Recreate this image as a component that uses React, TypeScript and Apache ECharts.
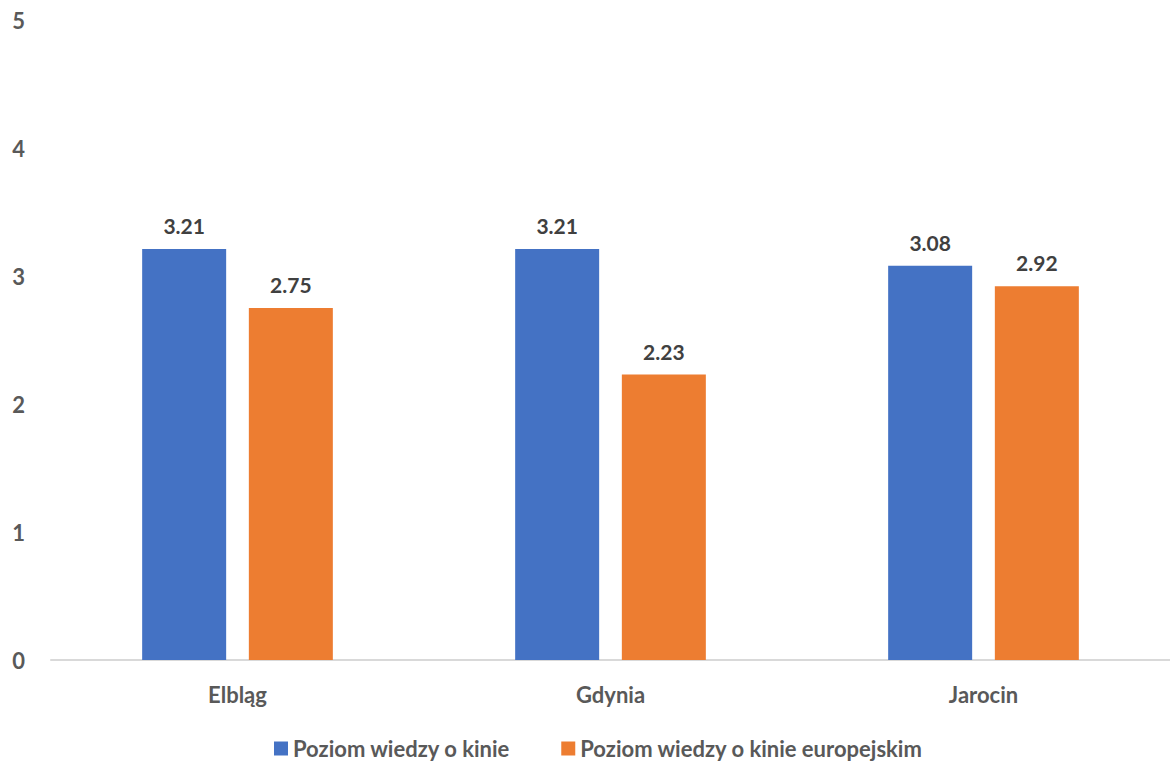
import React, { useEffect, useRef } from "react";
import * as echarts from "echarts";

const categories = ["Elbląg", "Gdynia", "Jarocin"];
const seriesNames = ["Poziom wiedzy o kinie", "Poziom wiedzy o kinie europejskim"];
const generalKnowledge = [3.21, 3.21, 3.08];
const europeanKnowledge = [2.75, 2.23, 2.92];
const colors = ["#4472C4", "#ED7D31"];

export default function App() {
  const ref = useRef<HTMLDivElement>(null);
  useEffect(() => {
    if (!ref.current) return;
    const chart = echarts.init(ref.current, null, { renderer: "svg" });
    const font = "Lato, 'Open Sans', sans-serif";
    const labelStyle = {
      show: true,
      position: "top" as const,
      distance: 13,
      color: "#404040",
      fontFamily: font,
      fontWeight: "bold" as const,
      fontSize: 21,
      formatter: (p: any) => p.value.toFixed(2),
    };
    chart.setOption({
      animation: false,
      backgroundColor: "#ffffff",
      color: colors,
      grid: { left: 51, right: -4, top: 20, bottom: 102, containLabel: false },
      legend: {
        left: 274,
        top: 735,
        padding: 0,
        itemWidth: 14,
        itemHeight: 14,
        itemGap: 51,
        icon: "rect",
        textStyle: { color: "#595959", fontFamily: font, fontWeight: "bold", fontSize: 22, lineHeight: 27 },
        data: seriesNames,
      },
      xAxis: {
        type: "category",
        data: categories,
        axisLine: { lineStyle: { color: "#D9D9D9", width: 2 } },
        axisTick: { show: false },
        axisLabel: { color: "#595959", fontFamily: font, fontWeight: "bold", fontSize: 22, margin: 23 },
      },
      yAxis: {
        type: "value",
        min: 0,
        max: 5,
        interval: 1,
        splitLine: { show: false },
        axisLine: { show: false },
        axisTick: { show: false },
        axisLabel: { color: "#595959", fontFamily: font, fontWeight: "bold", fontSize: 22, margin: 26 },
      },
      series: [
        {
          name: seriesNames[0],
          type: "bar",
          data: generalKnowledge,
          barWidth: 84,
          barGap: "27%",
          label: labelStyle,
        },
        {
          name: seriesNames[1],
          type: "bar",
          data: europeanKnowledge,
          barWidth: 84,
          barGap: "27%",
          label: labelStyle,
        },
      ],
    });
    return () => chart.dispose();
  }, []);
  return <div ref={ref} style={{ position: "fixed", left: 0, top: 0, width: 1170, height: 762 }} />;
}
